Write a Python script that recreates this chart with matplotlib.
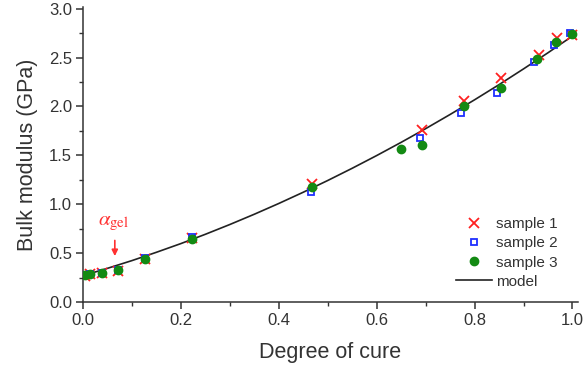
import numpy as np
import matplotlib.pyplot as plt
from matplotlib.ticker import MultipleLocator

plt.rcParams['font.family'] = ['Liberation Sans', 'DejaVu Sans']
plt.rcParams['mathtext.fontset'] = 'stix'

# sample data
s1_x = [0.005, 0.015, 0.038, 0.071, 0.127, 0.222, 0.468, 0.692, 0.778, 0.854, 0.931, 0.968, 1.0]
s1_y = [0.27, 0.285, 0.30, 0.32, 0.44, 0.65, 1.21, 1.76, 2.06, 2.29, 2.53, 2.70, 2.73]
s2_x = [0.005, 0.015, 0.038, 0.071, 0.127, 0.222, 0.465, 0.688, 0.773, 0.846, 0.922, 0.962, 0.994]
s2_y = [0.28, 0.29, 0.30, 0.33, 0.45, 0.665, 1.13, 1.68, 1.935, 2.14, 2.455, 2.625, 2.755]
s3_x = [0.005, 0.015, 0.038, 0.071, 0.127, 0.222, 0.468, 0.649, 0.692, 0.778, 0.853, 0.928, 0.967, 0.999]
s3_y = [0.275, 0.285, 0.30, 0.325, 0.445, 0.645, 1.175, 1.56, 1.61, 2.00, 2.19, 2.49, 2.66, 2.74]

# model curve
model_x = [0.0, 0.05, 0.10, 0.15, 0.20, 0.25, 0.30, 0.35, 0.40, 0.45, 0.50,
           0.55, 0.60, 0.65, 0.70, 0.75, 0.80, 0.85, 0.90, 0.95, 1.0]
model_y = [0.27, 0.345, 0.424, 0.509, 0.598, 0.693, 0.793, 0.898, 1.008, 1.123, 1.243,
           1.368, 1.498, 1.633, 1.773, 1.918, 2.068, 2.223, 2.384, 2.549, 2.72]

gel_x = 0.065

fig = plt.figure(figsize=(5.87, 3.72), dpi=100)
ax = fig.add_axes([0.1414, 0.188, 0.843, 0.794])

ax.plot(model_x, model_y, '-', color='#222222', lw=1.2, label='model', zorder=2)
ax.plot(s1_x, s1_y, 'x', color='#ff2020', ms=6.5, mew=1.3, ls='none', label='sample 1', zorder=3)
ax.plot(s2_x, s2_y, 's', color='#1f2fff', mfc='none', ms=4.5, mew=1.3, ls='none', label='sample 2', zorder=4)
ax.plot(s3_x, s3_y, 'o', color='#138a13', ms=6, ls='none', label='sample 3', zorder=5)

# gel point arrow
ax.annotate('', xy=(gel_x, 0.47), xytext=(gel_x, 0.63),
            arrowprops=dict(arrowstyle='-|>', color='#ff3030', lw=1.2,
                            shrinkA=0, shrinkB=0, mutation_scale=9))
ax.text(gel_x - 0.002, 0.80, r'$\alpha_{\mathrm{gel}}$', color='#ff3030', fontsize=15,
        ha='center', va='center')

ax.set_xlim(0, 1.011)
ax.set_ylim(0, 3.02)
ax.xaxis.set_minor_locator(MultipleLocator(0.1))
ax.yaxis.set_minor_locator(MultipleLocator(0.25))
ax.set_xticks([0.0, 0.2, 0.4, 0.6, 0.8, 1.0])
ax.set_xticklabels(['0.0', '0.2', '0.4', '0.6', '0.8', '1.0'])
ax.set_yticks([0.0, 0.5, 1.0, 1.5, 2.0, 2.5, 3.0])
ax.set_yticklabels(['0.0', '0.5', '1.0', '1.5', '2.0', '2.5', '3.0'])

for s in ['top', 'right']:
    ax.spines[s].set_visible(False)
for s in ['left', 'bottom']:
    ax.spines[s].set_linewidth(1.1)
    ax.spines[s].set_color('#333333')
ax.tick_params(which='major', direction='out', length=5, width=1.1, colors='#333333',
               labelsize=12, labelcolor='#333333', pad=3)
ax.tick_params(which='minor', direction='out', length=3, width=1.0, colors='#333333')

ax.set_xlabel('Degree of cure', fontsize=15.5, color='#333333', labelpad=10)
ax.set_ylabel('Bulk modulus (GPa)', fontsize=15.5, color='#333333', labelpad=8)

h, l = ax.get_legend_handles_labels()
order = [1, 2, 3, 0]
ax.legend([h[i] for i in order], [l[i] for i in order], loc='upper left',
          bbox_to_anchor=(0.725, 0.333), frameon=False, fontsize=11,
          handlelength=2.4, handletextpad=0.25, labelspacing=0.33, labelcolor='#333333')

fig.savefig('out.png', dpi=100)
